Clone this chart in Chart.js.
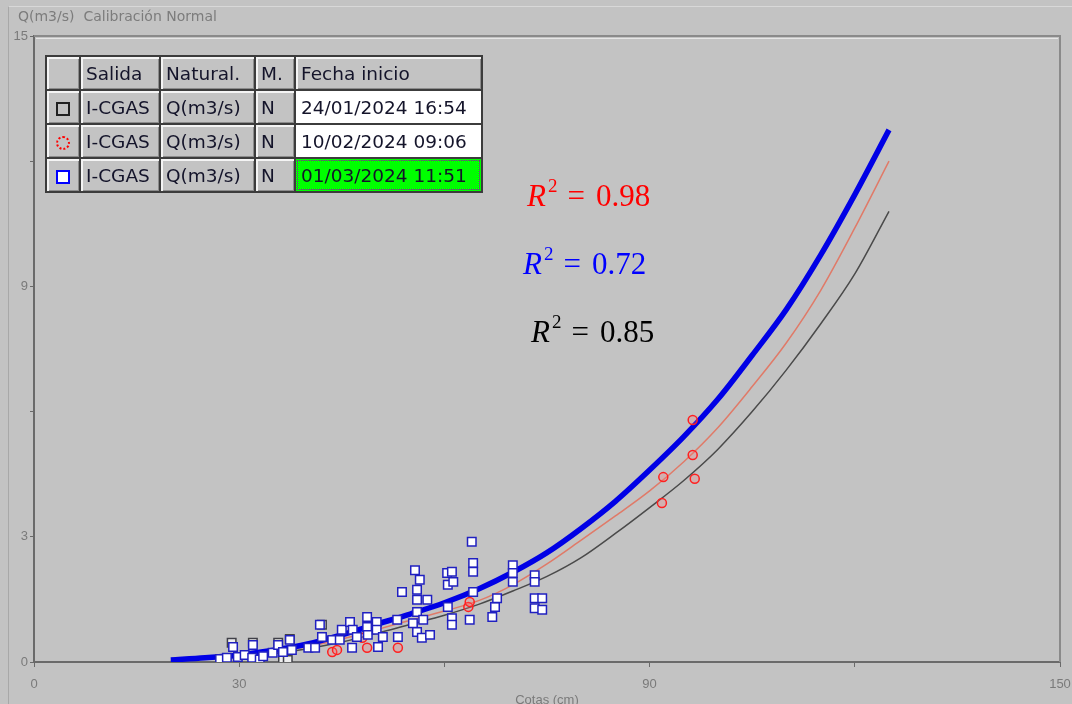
<!DOCTYPE html>
<html>
<head>
<meta charset="utf-8">
<script src="https://cdn.jsdelivr.net/npm/chart.js@4.4.1/dist/chart.umd.min.js"></script>
<style>
  html, body { margin: 0; padding: 0; background: #c3c3c3; }
  #wrap { position: relative; width: 1072px; height: 704px; overflow: hidden; }
  #chart { position: absolute; left: 0; top: 0; }
  #frame { position: absolute; left: 8px; top: 6px; width: 1070px; height: 710px;
           border-top: 1px solid #d8d8d8; border-left: 1px solid #a8a8a8; }
  #title { position: absolute; left: 18px; top: 8px; font: 14px "DejaVu Sans", sans-serif;
           color: #7c7c7c; white-space: pre; }
  #legendTable { position: absolute; left: 45px; top: 55px; border-collapse: collapse;
                 table-layout: fixed; font: 18.5px "DejaVu Sans", sans-serif; color: #14142a;
                 border: 2px solid #2a2a2a; }
  #legendTable td { height: 32px; padding: 0 0 0 5px; border: 2px solid #3c3c3c;
                    background: #c3c3c3; white-space: nowrap; overflow: hidden;
                    box-shadow: inset 2px 2px 0 #f4f4f4, inset -1px -1px 0 #8c8c8c; }
  #legendTable td.icon { text-align: center; padding: 0; }
  #legendTable td.date { background: #ffffff; box-shadow: none; }
  #legendTable td.sel { background: #00ff00; box-shadow: none; outline: 1px dotted #9a00b0; outline-offset: -3px; }
  .ico { display: inline-block; width: 10px; height: 10px; vertical-align: middle; }
  .r2 { position: absolute; font: 31px "Liberation Serif", serif; white-space: nowrap; }
  .r2 i { font-style: italic; }
  .r2 sup { font-size: 19px; position: relative; top: -3px; margin-left: 2px; }
  .r2 .eq { margin: 0 11px 0 10px; }
</style>
</head>
<body>
<div id="wrap">
  <div id="frame"></div>
  <canvas id="chart" width="1072" height="704"></canvas>
  <div id="title">Q(m3/s)  Calibración Normal</div>
  <table id="legendTable"></table>
  <div id="r2box"></div>
</div>
<script>
// ---- data ----
const axisTitleX = "Cotas (cm)";

const xTicksShown = [0, 30, 90, 150];
const yTicksShown = [0, 3, 9, 15];

// rating curves (cota cm -> caudal m3/s)
const curveX     = [20, 25, 30, 35, 40, 45, 50, 55, 60, 65, 70, 75, 80, 85, 90, 95, 100, 105, 110, 115, 120, 125];
const blueCurve  = [0.05, 0.1, 0.17, 0.28, 0.43, 0.65, 0.9, 1.15, 1.42, 1.75, 2.15, 2.62, 3.2, 3.85, 4.6, 5.4, 6.3, 7.35, 8.45, 9.75, 11.2, 12.75];
const redCurve   = [0.04, 0.08, 0.14, 0.24, 0.37, 0.55, 0.77, 1.0, 1.22, 1.47, 1.85, 2.35, 2.92, 3.5, 4.1, 4.8, 5.62, 6.6, 7.65, 8.9, 10.4, 12.0];
const blackCurve = [0.03, 0.07, 0.12, 0.2, 0.32, 0.48, 0.68, 0.9, 1.12, 1.38, 1.7, 2.05, 2.5, 3.08, 3.7, 4.35, 5.1, 6.0, 7.0, 8.1, 9.3, 10.8];

// measured points
const blueX = [27.2, 28.2, 29.1, 29.8, 30.8, 31.9, 32.0, 33.0, 33.5, 34.9, 35.7, 36.4, 37.4, 37.7, 40.1, 41.1, 41.8, 42.1,
               43.6, 44.7, 45.0, 46.2, 46.5, 46.6, 47.2, 48.7, 48.7, 48.8, 50.1, 50.1, 50.3, 51.0, 53.1, 53.2, 53.8,
               55.4, 55.7, 56.0, 56.0, 56.0, 56.0, 56.4, 56.7, 56.9, 57.5, 57.9, 60.4, 60.5, 60.5, 61.1, 61.1, 61.1,
               61.3, 63.7, 64.0, 64.2, 64.2, 64.2, 67.0, 67.4, 67.7, 70.0, 70.0, 70.0, 73.2, 73.2, 73.2, 73.2, 74.3, 74.3];
const blueQ = [0.07, 0.1, 0.36, 0.12, 0.17, 0.1, 0.41, 0.06, 0.14, 0.22, 0.41, 0.24, 0.53, 0.29, 0.34, 0.34, 0.89, 0.6,
               0.53, 0.53, 0.77, 0.96, 0.34, 0.77, 0.6, 1.08, 0.84, 0.65, 0.96, 0.77, 0.36, 0.6, 1.01, 0.6, 1.68,
               0.93, 2.2, 1.73, 1.49, 1.2, 0.72, 1.97, 0.58, 1.01, 1.49, 0.65, 2.13, 1.85, 1.32, 2.16, 1.05, 0.89,
               1.92, 1.01, 2.88, 2.37, 2.16, 1.68, 1.08, 1.32, 1.53, 2.32, 2.13, 1.92, 2.08, 1.92, 1.53, 1.29, 1.53, 1.25];
const redX = [43.6, 44.3, 48.0, 48.7, 53.2, 63.5, 63.7, 91.8, 92.0, 96.3, 96.3, 96.6];
const redQ = [0.24, 0.29, 0.58, 0.34, 0.34, 1.32, 1.44, 3.81, 4.43, 5.8, 4.96, 4.39];
const blackX = [28.9, 32.0, 35.7, 36.4, 37.1, 37.4, 42.1];
const blackQ = [0.46, 0.46, 0.46, 0.05, 0.05, 0.55, 0.89];

// legend table rows
const legendHeader = ["", "Salida", "Natural.", "M.", "Fecha inicio"];
const legendSalida = ["I-CGAS", "I-CGAS", "I-CGAS"];
const legendNatural = ["Q(m3/s)", "Q(m3/s)", "Q(m3/s)"];
const legendM = ["N", "N", "N"];
const legendFecha = ["24/01/2024 16:54", "10/02/2024 09:06", "01/03/2024 11:51"];

const r2Values = ["0.98", "0.72", "0.85"];

// ---- styles ----
const BLUE = "#0000e6";
const RED = "#ff2020";
const SALMON = "#e07a68";
const DARK = "#4a4a4a";
const TICK_COLOR = "#7a7a7a";

function pts(xs, ys) {
  return xs.map((x, i) => ({ x, y: ys[i] }));
}

const framePlugin = {
  id: "frame",
  beforeDatasetsDraw(chart) {
    const { ctx, chartArea: a } = chart;
    ctx.save();
    ctx.strokeStyle = "#8a8a8a";
    ctx.lineWidth = 2;
    ctx.beginPath();
    ctx.moveTo(a.left, a.top);
    ctx.lineTo(a.right, a.top);
    ctx.lineTo(a.right, a.bottom);
    ctx.stroke();
    ctx.strokeStyle = "#e6e6e6";
    ctx.lineWidth = 1;
    ctx.beginPath();
    ctx.moveTo(a.left + 2, a.top + 2.5);
    ctx.lineTo(a.right - 2, a.top + 2.5);
    ctx.stroke();
    ctx.restore();
  }
};

const tickFont = { family: "Liberation Sans", size: 13 };

new Chart(document.getElementById("chart"), {
  type: "scatter",
  data: {
    datasets: [
      { type: "line", data: pts(curveX, blackCurve), borderColor: DARK, borderWidth: 1.5,
        pointRadius: 0, fill: false, cubicInterpolationMode: "monotone", order: 6 },
      { type: "line", data: pts(curveX, redCurve), borderColor: SALMON, borderWidth: 1.5,
        pointRadius: 0, fill: false, cubicInterpolationMode: "monotone", order: 5 },
      { type: "line", data: pts(curveX, blueCurve), borderColor: BLUE, borderWidth: 5.5,
        pointRadius: 0, fill: false, cubicInterpolationMode: "monotone", order: 4 },
      { data: pts(blackX, blackQ), pointStyle: "rect", pointRadius: 6, borderWidth: 1.5,
        borderColor: "#404048", backgroundColor: "#eeeeee", order: 3 },
      { data: pts(redX, redQ), pointStyle: "circle", pointRadius: 4.5, borderWidth: 1.5,
        borderColor: RED, backgroundColor: "rgba(255,120,120,0.25)", order: 2 },
      { data: pts(blueX, blueQ), pointStyle: "rect", pointRadius: 6, borderWidth: 1.5,
        borderColor: "#2020c0", backgroundColor: "#ffffff", order: 1 }
    ]
  },
  options: {
    animation: false,
    responsive: false,
    events: [],
    layout: { padding: { top: 36, right: 0, left: 0, bottom: 0 } },
    plugins: { legend: { display: false }, tooltip: { enabled: false } },
    scales: {
      x: {
        type: "linear", min: 0, max: 150,
        afterFit(s) { s.height = 42; s.paddingLeft = 0; s.paddingRight = 12; },
        ticks: {
          stepSize: 30, autoSkip: false, maxRotation: 0, padding: 10,
          color: TICK_COLOR, font: tickFont,
          callback: v => (xTicksShown.includes(v) ? String(v) : "")
        },
        grid: { drawOnChartArea: false, drawTicks: true, tickLength: 5, color: "#6a6a6a" },
        border: { color: "#6a6a6a", width: 2 },
        title: { display: true, text: axisTitleX, color: TICK_COLOR,
                 font: { family: "Liberation Sans", size: 13 }, padding: { top: 0, bottom: -4 } }
      },
      y: {
        type: "linear", min: 0, max: 15,
        afterFit(s) { s.width = 34; },
        ticks: {
          stepSize: 3, autoSkip: false, padding: 2,
          color: TICK_COLOR, font: tickFont,
          callback: v => (yTicksShown.includes(v) ? String(v) : "")
        },
        grid: { drawOnChartArea: false, drawTicks: true, tickLength: 4, color: "#6a6a6a" },
        border: { color: "#6a6a6a", width: 2 }
      }
    }
  },
  plugins: [framePlugin]
});

// ---- legend table ----
const icons = [
  '<span class="ico" style="border:2px solid #222;background:#c3c3c3"></span>',
  '<span class="ico" style="border:2px dotted #ff0000;border-radius:50%"></span>',
  '<span class="ico" style="border:2px solid #0000ff;background:#fff"></span>'
];
const colW = [34, 80, 95, 40, 187];
const table = document.getElementById("legendTable");
let html = "<colgroup>" + colW.map(w => `<col style="width:${w}px">`).join("") + "</colgroup>";
html += "<tr>" + legendHeader.map((h, i) => `<td${i === 0 ? ' class="icon"' : ""}>${h}</td>`).join("") + "</tr>";
for (let r = 0; r < legendFecha.length; r++) {
  const dateCls = r === legendFecha.length - 1 ? "sel" : "date";
  html += `<tr><td class="icon">${icons[r]}</td><td>${legendSalida[r]}</td><td>${legendNatural[r]}</td>` +
          `<td>${legendM[r]}</td><td class="${dateCls}">${legendFecha[r]}</td></tr>`;
}
table.innerHTML = html;

// ---- R² labels ----
const r2Colors = ["#ff0000", "#0000ff", "#000000"];
const r2Pos = [[527, 178], [523, 246], [531, 314]];
const box = document.getElementById("r2box");
r2Values.forEach((v, i) => {
  const d = document.createElement("div");
  d.className = "r2";
  d.style.left = r2Pos[i][0] + "px";
  d.style.top = r2Pos[i][1] + "px";
  d.style.color = r2Colors[i];
  d.innerHTML = `<i>R</i><sup>2</sup><span class="eq">=</span>${v}`;
  box.appendChild(d);
});
</script>
</body>
</html>
